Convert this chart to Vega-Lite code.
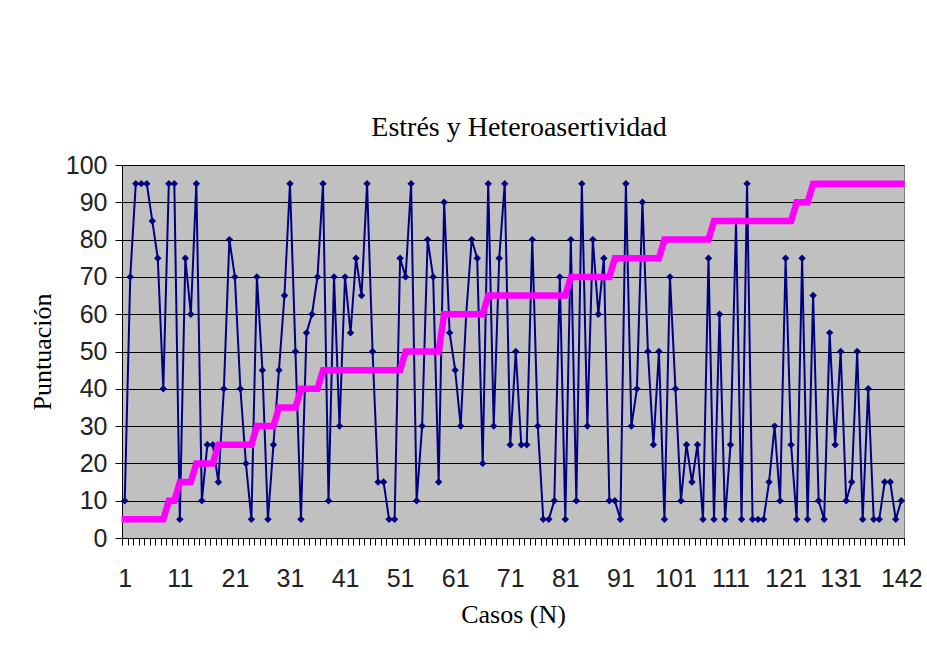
{
  "$schema": "https://vega.github.io/schema/vega-lite/v6.json",
  "width": 782,
  "height": 373,
  "autosize": {"type": "none"},
  "padding": {"left": 122, "top": 165, "right": 23, "bottom": 115},
  "background": "white",
  "title": {"text": "Estrés y Heteroasertividad", "font": "Liberation Serif", "fontSize": 28, "fontWeight": "normal", "color": "#000000", "offset": 11, "anchor": "middle", "dx": 6},
  "config": {
    "view": {"fill": "#C0C0C0", "stroke": "#808080", "strokeWidth": 1},
    "axisY": {
      "values": [0, 10, 20, 30, 40, 50, 60, 70, 80, 90, 100],
      "grid": true, "gridColor": "#000000", "gridWidth": 1, "gridOpacity": 1,
      "domainColor": "#000000", "tickColor": "#000000", "tickSize": 7, "tickWidth": 1,
      "labelFont": "Liberation Sans", "labelFontSize": 25, "labelColor": "#222222", "labelPadding": 8,
      "titleFont": "Liberation Serif", "titleFontSize": 26, "titleFontWeight": "normal", "titleColor": "#000000", "titlePadding": 10
    }
  },
  "data": {"values": [
    {"caso": 1, "Heteroasertividad": 10, "Estres": 5},
    {"caso": 2, "Heteroasertividad": 70, "Estres": 5},
    {"caso": 3, "Heteroasertividad": 95, "Estres": 5},
    {"caso": 4, "Heteroasertividad": 95, "Estres": 5},
    {"caso": 5, "Heteroasertividad": 95, "Estres": 5},
    {"caso": 6, "Heteroasertividad": 85, "Estres": 5},
    {"caso": 7, "Heteroasertividad": 75, "Estres": 5},
    {"caso": 8, "Heteroasertividad": 40, "Estres": 5},
    {"caso": 9, "Heteroasertividad": 95, "Estres": 10},
    {"caso": 10, "Heteroasertividad": 95, "Estres": 10},
    {"caso": 11, "Heteroasertividad": 5, "Estres": 15},
    {"caso": 12, "Heteroasertividad": 75, "Estres": 15},
    {"caso": 13, "Heteroasertividad": 60, "Estres": 15},
    {"caso": 14, "Heteroasertividad": 95, "Estres": 20},
    {"caso": 15, "Heteroasertividad": 10, "Estres": 20},
    {"caso": 16, "Heteroasertividad": 25, "Estres": 20},
    {"caso": 17, "Heteroasertividad": 25, "Estres": 20},
    {"caso": 18, "Heteroasertividad": 15, "Estres": 25},
    {"caso": 19, "Heteroasertividad": 40, "Estres": 25},
    {"caso": 20, "Heteroasertividad": 80, "Estres": 25},
    {"caso": 21, "Heteroasertividad": 70, "Estres": 25},
    {"caso": 22, "Heteroasertividad": 40, "Estres": 25},
    {"caso": 23, "Heteroasertividad": 20, "Estres": 25},
    {"caso": 24, "Heteroasertividad": 5, "Estres": 25},
    {"caso": 25, "Heteroasertividad": 70, "Estres": 30},
    {"caso": 26, "Heteroasertividad": 45, "Estres": 30},
    {"caso": 27, "Heteroasertividad": 5, "Estres": 30},
    {"caso": 28, "Heteroasertividad": 25, "Estres": 30},
    {"caso": 29, "Heteroasertividad": 45, "Estres": 35},
    {"caso": 30, "Heteroasertividad": 65, "Estres": 35},
    {"caso": 31, "Heteroasertividad": 95, "Estres": 35},
    {"caso": 32, "Heteroasertividad": 50, "Estres": 35},
    {"caso": 33, "Heteroasertividad": 5, "Estres": 40},
    {"caso": 34, "Heteroasertividad": 55, "Estres": 40},
    {"caso": 35, "Heteroasertividad": 60, "Estres": 40},
    {"caso": 36, "Heteroasertividad": 70, "Estres": 40},
    {"caso": 37, "Heteroasertividad": 95, "Estres": 45},
    {"caso": 38, "Heteroasertividad": 10, "Estres": 45},
    {"caso": 39, "Heteroasertividad": 70, "Estres": 45},
    {"caso": 40, "Heteroasertividad": 30, "Estres": 45},
    {"caso": 41, "Heteroasertividad": 70, "Estres": 45},
    {"caso": 42, "Heteroasertividad": 55, "Estres": 45},
    {"caso": 43, "Heteroasertividad": 75, "Estres": 45},
    {"caso": 44, "Heteroasertividad": 65, "Estres": 45},
    {"caso": 45, "Heteroasertividad": 95, "Estres": 45},
    {"caso": 46, "Heteroasertividad": 50, "Estres": 45},
    {"caso": 47, "Heteroasertividad": 15, "Estres": 45},
    {"caso": 48, "Heteroasertividad": 15, "Estres": 45},
    {"caso": 49, "Heteroasertividad": 5, "Estres": 45},
    {"caso": 50, "Heteroasertividad": 5, "Estres": 45},
    {"caso": 51, "Heteroasertividad": 75, "Estres": 45},
    {"caso": 52, "Heteroasertividad": 70, "Estres": 50},
    {"caso": 53, "Heteroasertividad": 95, "Estres": 50},
    {"caso": 54, "Heteroasertividad": 10, "Estres": 50},
    {"caso": 55, "Heteroasertividad": 30, "Estres": 50},
    {"caso": 56, "Heteroasertividad": 80, "Estres": 50},
    {"caso": 57, "Heteroasertividad": 70, "Estres": 50},
    {"caso": 58, "Heteroasertividad": 15, "Estres": 50},
    {"caso": 59, "Heteroasertividad": 90, "Estres": 60},
    {"caso": 60, "Heteroasertividad": 55, "Estres": 60},
    {"caso": 61, "Heteroasertividad": 45, "Estres": 60},
    {"caso": 62, "Heteroasertividad": 30, "Estres": 60},
    {"caso": 63, "Heteroasertividad": 60, "Estres": 60},
    {"caso": 64, "Heteroasertividad": 80, "Estres": 60},
    {"caso": 65, "Heteroasertividad": 75, "Estres": 60},
    {"caso": 66, "Heteroasertividad": 20, "Estres": 60},
    {"caso": 67, "Heteroasertividad": 95, "Estres": 65},
    {"caso": 68, "Heteroasertividad": 30, "Estres": 65},
    {"caso": 69, "Heteroasertividad": 75, "Estres": 65},
    {"caso": 70, "Heteroasertividad": 95, "Estres": 65},
    {"caso": 71, "Heteroasertividad": 25, "Estres": 65},
    {"caso": 72, "Heteroasertividad": 50, "Estres": 65},
    {"caso": 73, "Heteroasertividad": 25, "Estres": 65},
    {"caso": 74, "Heteroasertividad": 25, "Estres": 65},
    {"caso": 75, "Heteroasertividad": 80, "Estres": 65},
    {"caso": 76, "Heteroasertividad": 30, "Estres": 65},
    {"caso": 77, "Heteroasertividad": 5, "Estres": 65},
    {"caso": 78, "Heteroasertividad": 5, "Estres": 65},
    {"caso": 79, "Heteroasertividad": 10, "Estres": 65},
    {"caso": 80, "Heteroasertividad": 70, "Estres": 65},
    {"caso": 81, "Heteroasertividad": 5, "Estres": 65},
    {"caso": 82, "Heteroasertividad": 80, "Estres": 70},
    {"caso": 83, "Heteroasertividad": 10, "Estres": 70},
    {"caso": 84, "Heteroasertividad": 95, "Estres": 70},
    {"caso": 85, "Heteroasertividad": 30, "Estres": 70},
    {"caso": 86, "Heteroasertividad": 80, "Estres": 70},
    {"caso": 87, "Heteroasertividad": 60, "Estres": 70},
    {"caso": 88, "Heteroasertividad": 75, "Estres": 70},
    {"caso": 89, "Heteroasertividad": 10, "Estres": 70},
    {"caso": 90, "Heteroasertividad": 10, "Estres": 75},
    {"caso": 91, "Heteroasertividad": 5, "Estres": 75},
    {"caso": 92, "Heteroasertividad": 95, "Estres": 75},
    {"caso": 93, "Heteroasertividad": 30, "Estres": 75},
    {"caso": 94, "Heteroasertividad": 40, "Estres": 75},
    {"caso": 95, "Heteroasertividad": 90, "Estres": 75},
    {"caso": 96, "Heteroasertividad": 50, "Estres": 75},
    {"caso": 97, "Heteroasertividad": 25, "Estres": 75},
    {"caso": 98, "Heteroasertividad": 50, "Estres": 75},
    {"caso": 99, "Heteroasertividad": 5, "Estres": 80},
    {"caso": 100, "Heteroasertividad": 70, "Estres": 80},
    {"caso": 101, "Heteroasertividad": 40, "Estres": 80},
    {"caso": 102, "Heteroasertividad": 10, "Estres": 80},
    {"caso": 103, "Heteroasertividad": 25, "Estres": 80},
    {"caso": 104, "Heteroasertividad": 15, "Estres": 80},
    {"caso": 105, "Heteroasertividad": 25, "Estres": 80},
    {"caso": 106, "Heteroasertividad": 5, "Estres": 80},
    {"caso": 107, "Heteroasertividad": 75, "Estres": 80},
    {"caso": 108, "Heteroasertividad": 5, "Estres": 85},
    {"caso": 109, "Heteroasertividad": 60, "Estres": 85},
    {"caso": 110, "Heteroasertividad": 5, "Estres": 85},
    {"caso": 111, "Heteroasertividad": 25, "Estres": 85},
    {"caso": 112, "Heteroasertividad": 85, "Estres": 85},
    {"caso": 113, "Heteroasertividad": 5, "Estres": 85},
    {"caso": 114, "Heteroasertividad": 95, "Estres": 85},
    {"caso": 115, "Heteroasertividad": 5, "Estres": 85},
    {"caso": 116, "Heteroasertividad": 5, "Estres": 85},
    {"caso": 117, "Heteroasertividad": 5, "Estres": 85},
    {"caso": 118, "Heteroasertividad": 15, "Estres": 85},
    {"caso": 119, "Heteroasertividad": 30, "Estres": 85},
    {"caso": 120, "Heteroasertividad": 10, "Estres": 85},
    {"caso": 121, "Heteroasertividad": 75, "Estres": 85},
    {"caso": 122, "Heteroasertividad": 25, "Estres": 85},
    {"caso": 123, "Heteroasertividad": 5, "Estres": 90},
    {"caso": 124, "Heteroasertividad": 75, "Estres": 90},
    {"caso": 125, "Heteroasertividad": 5, "Estres": 90},
    {"caso": 126, "Heteroasertividad": 65, "Estres": 95},
    {"caso": 127, "Heteroasertividad": 10, "Estres": 95},
    {"caso": 128, "Heteroasertividad": 5, "Estres": 95},
    {"caso": 129, "Heteroasertividad": 55, "Estres": 95},
    {"caso": 130, "Heteroasertividad": 25, "Estres": 95},
    {"caso": 131, "Heteroasertividad": 50, "Estres": 95},
    {"caso": 132, "Heteroasertividad": 10, "Estres": 95},
    {"caso": 133, "Heteroasertividad": 15, "Estres": 95},
    {"caso": 134, "Heteroasertividad": 50, "Estres": 95},
    {"caso": 135, "Heteroasertividad": 5, "Estres": 95},
    {"caso": 136, "Heteroasertividad": 40, "Estres": 95},
    {"caso": 137, "Heteroasertividad": 5, "Estres": 95},
    {"caso": 138, "Heteroasertividad": 5, "Estres": 95},
    {"caso": 139, "Heteroasertividad": 15, "Estres": 95},
    {"caso": 140, "Heteroasertividad": 15, "Estres": 95},
    {"caso": 141, "Heteroasertividad": 5, "Estres": 95},
    {"caso": 142, "Heteroasertividad": 10, "Estres": 95}
  ]},
  "layer": [
    {
      "mark": {"type": "line", "color": "#000080", "strokeWidth": 2, "point": {"shape": "diamond", "filled": true, "size": 55, "color": "#000080"}},
      "encoding": {
        "x": {"field": "caso", "type": "quantitative", "scale": {"domain": [0.5, 142.5], "nice": false, "zero": false},
          "axis": {"orient": "bottom", "title": null, "labels": false, "grid": false, "domainColor": "#000000", "tickColor": "#000000", "tickSize": 7, "tickWidth": 1,
            "values": [0.5,1.5,2.5,3.5,4.5,5.5,6.5,7.5,8.5,9.5,10.5,11.5,12.5,13.5,14.5,15.5,16.5,17.5,18.5,19.5,20.5,21.5,22.5,23.5,24.5,25.5,26.5,27.5,28.5,29.5,30.5,31.5,32.5,33.5,34.5,35.5,36.5,37.5,38.5,39.5,40.5,41.5,42.5,43.5,44.5,45.5,46.5,47.5,48.5,49.5,50.5,51.5,52.5,53.5,54.5,55.5,56.5,57.5,58.5,59.5,60.5,61.5,62.5,63.5,64.5,65.5,66.5,67.5,68.5,69.5,70.5,71.5,72.5,73.5,74.5,75.5,76.5,77.5,78.5,79.5,80.5,81.5,82.5,83.5,84.5,85.5,86.5,87.5,88.5,89.5,90.5,91.5,92.5,93.5,94.5,95.5,96.5,97.5,98.5,99.5,100.5,101.5,102.5,103.5,104.5,105.5,106.5,107.5,108.5,109.5,110.5,111.5,112.5,113.5,114.5,115.5,116.5,117.5,118.5,119.5,120.5,121.5,122.5,123.5,124.5,125.5,126.5,127.5,128.5,129.5,130.5,131.5,132.5,133.5,134.5,135.5,136.5,137.5,138.5,139.5,140.5,141.5,142.5]}},
        "y": {"field": "Heteroasertividad", "type": "quantitative", "scale": {"domain": [0, 100], "nice": false}, "title": "Puntuación"}
      }
    },
    {
      "mark": {"type": "line", "color": "#FF00FF", "strokeWidth": 6.5, "strokeCap": "square"},
      "encoding": {
        "x": {"field": "caso", "type": "quantitative", "scale": {"domain": [0.5, 142.5], "nice": false, "zero": false},
          "axis": {"orient": "bottom", "title": "Casos (N)", "values": [1, 11, 21, 31, 41, 51, 61, 71, 81, 91, 101, 111, 121, 131, 142],
            "grid": false, "domain": false, "ticks": false, "tickSize": 0, "labelFlush": false, "labelOverlap": false, "labelBound": false,
            "labelFont": "Liberation Sans", "labelFontSize": 25, "labelColor": "#222222", "labelPadding": 28,
            "titleFont": "Liberation Serif", "titleFontSize": 26, "titleFontWeight": "normal", "titleColor": "#000000", "titlePadding": 10}},
        "y": {"field": "Estres", "type": "quantitative", "scale": {"domain": [0, 100], "nice": false}, "title": "Puntuación"}
      }
    }
  ],
  "resolve": {"axis": {"x": "independent"}}
}
